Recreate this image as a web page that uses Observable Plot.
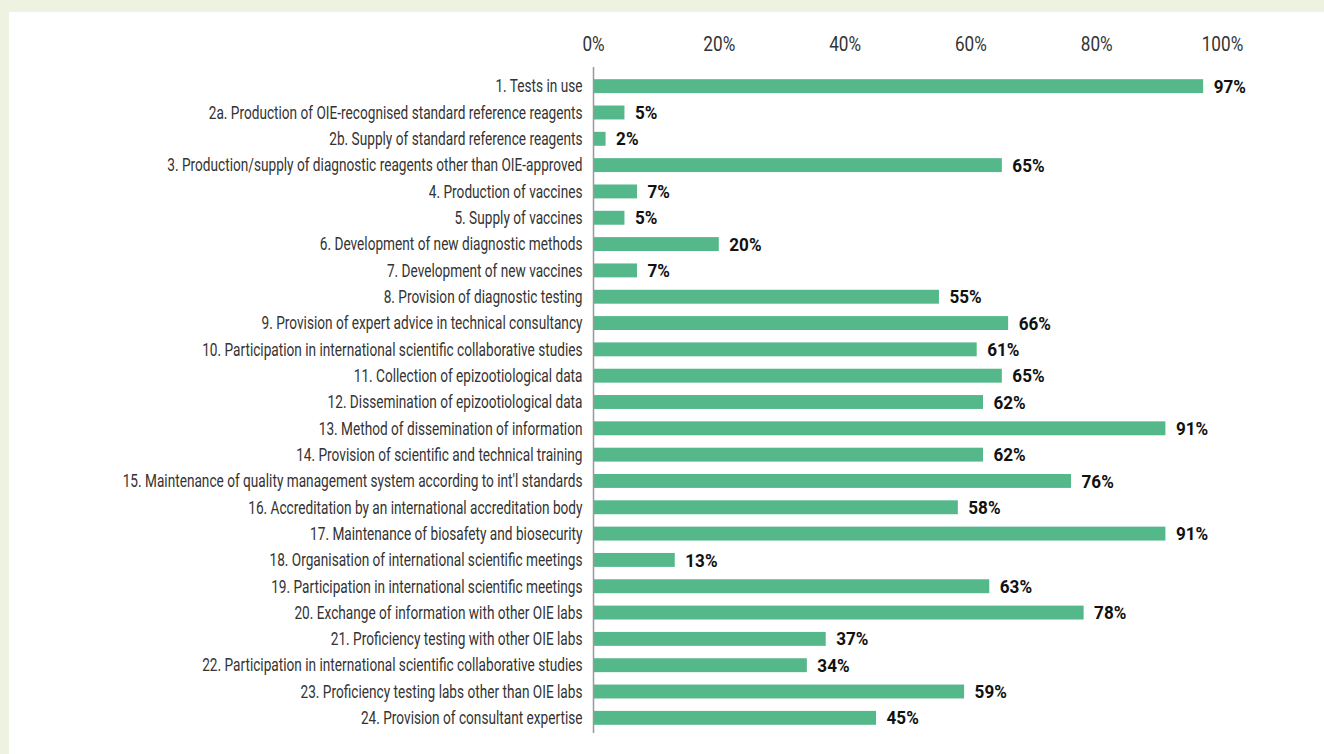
<!DOCTYPE html>
<html>
<head>
<meta charset="utf-8">
<script src="https://cdn.jsdelivr.net/npm/d3@7"></script>
<script src="https://cdn.jsdelivr.net/npm/@observablehq/plot@0.6"></script>
<style>
  html, body { margin: 0; padding: 0; background: #eef3e1; }
  body { width: 1324px; height: 754px; overflow: hidden; position: relative; }
  #chart { position: absolute; left: 9px; top: 12px; width: 1315px; height: 742px; background: #ffffff; }
  #chart svg { display: block; }
</style>
</head>
<body>
<div id="chart"></div>
<script>
const categories = [
  "1. Tests in use",
  "2a. Production of OIE-recognised standard reference reagents",
  "2b. Supply of standard reference reagents",
  "3. Production/supply of diagnostic reagents other than OIE-approved",
  "4. Production of vaccines",
  "5. Supply of vaccines",
  "6. Development of new diagnostic methods",
  "7. Development of new vaccines",
  "8. Provision of diagnostic testing",
  "9. Provision of expert advice in technical consultancy",
  "10. Participation in international scientific collaborative studies",
  "11. Collection of epizootiological data",
  "12. Dissemination of epizootiological data",
  "13. Method of dissemination of information",
  "14. Provision of scientific and technical training",
  "15. Maintenance of quality management system according to int'l standards",
  "16. Accreditation by an international accreditation body",
  "17. Maintenance of biosafety and biosecurity",
  "18. Organisation of international scientific meetings",
  "19. Participation in international scientific meetings",
  "20. Exchange of information with other OIE labs",
  "21. Proficiency testing with other OIE labs",
  "22. Participation in international scientific collaborative studies",
  "23. Proficiency testing labs other than OIE labs",
  "24. Provision of consultant expertise"
];
const values = [97, 5, 2, 65, 7, 5, 20, 7, 55, 66, 61, 65, 62, 91, 62, 76, 58, 91, 13, 63, 78, 37, 34, 59, 45];
const xTicks = [0, 20, 40, 60, 80, 100];

const data = categories.map((c, i) => ({category: c, value: values[i]}));

const W = 1315, H = 742;
const chart = Plot.plot({
  width: W,
  height: H,
  marginLeft: 584,
  marginRight: 102,
  marginTop: 61,
  marginBottom: 23,
  style: {fontFamily: "Roboto, 'Liberation Sans', sans-serif", background: "transparent"},
  x: {domain: [0, 100], axis: null, label: null},
  y: {domain: categories, padding: 0, round: false, axis: null, label: null},
  marks: [
    Plot.axisX(xTicks, {
      anchor: "top", tickSize: 0, tickPadding: 23, label: null,
      tickFormat: d => d + "%", fontSize: 20, fill: "#333", className: "xticks"
    }),
    Plot.barX(data, {
      y: "category", x: "value",
      fill: "#55b88a", insetTop: 6.2, insetBottom: 6.2
    }),
    Plot.ruleX([0], {stroke: "#999", strokeWidth: 1.5, insetTop: -6, insetBottom: -2}),
    Plot.axisY({
      anchor: "left", tickSize: 0, tickPadding: 11, label: null,
      fontSize: 18, fill: "#333", className: "yticks"
    }),
    Plot.text(data, {
      y: "category", x: "value", text: d => d.value + "%",
      dx: 10, textAnchor: "start", fontWeight: "bold", fontSize: 19, fill: "#111",
      className: "vals"
    })
  ]
});
document.getElementById("chart").appendChild(chart);

// Emulate a condensed typeface: scale each text horizontally about its own anchor.
function condense(selector, k) {
  chart.querySelectorAll(selector + " text").forEach(t => {
    const x = +(t.getAttribute("x") || 0);
    const prev = t.getAttribute("transform") || "";
    t.setAttribute("transform", `${prev} translate(${x},0) scale(${k.toFixed(4)},1) translate(${-x},0)`.trim());
  });
}
const longest = [...chart.querySelectorAll(".yticks text")]
  .reduce((m, t) => Math.max(m, t.getComputedTextLength()), 0);
condense(".yticks", 460 / longest);
condense(".xticks", 0.86);
condense(".vals", 0.9);
</script>
</body>
</html>
